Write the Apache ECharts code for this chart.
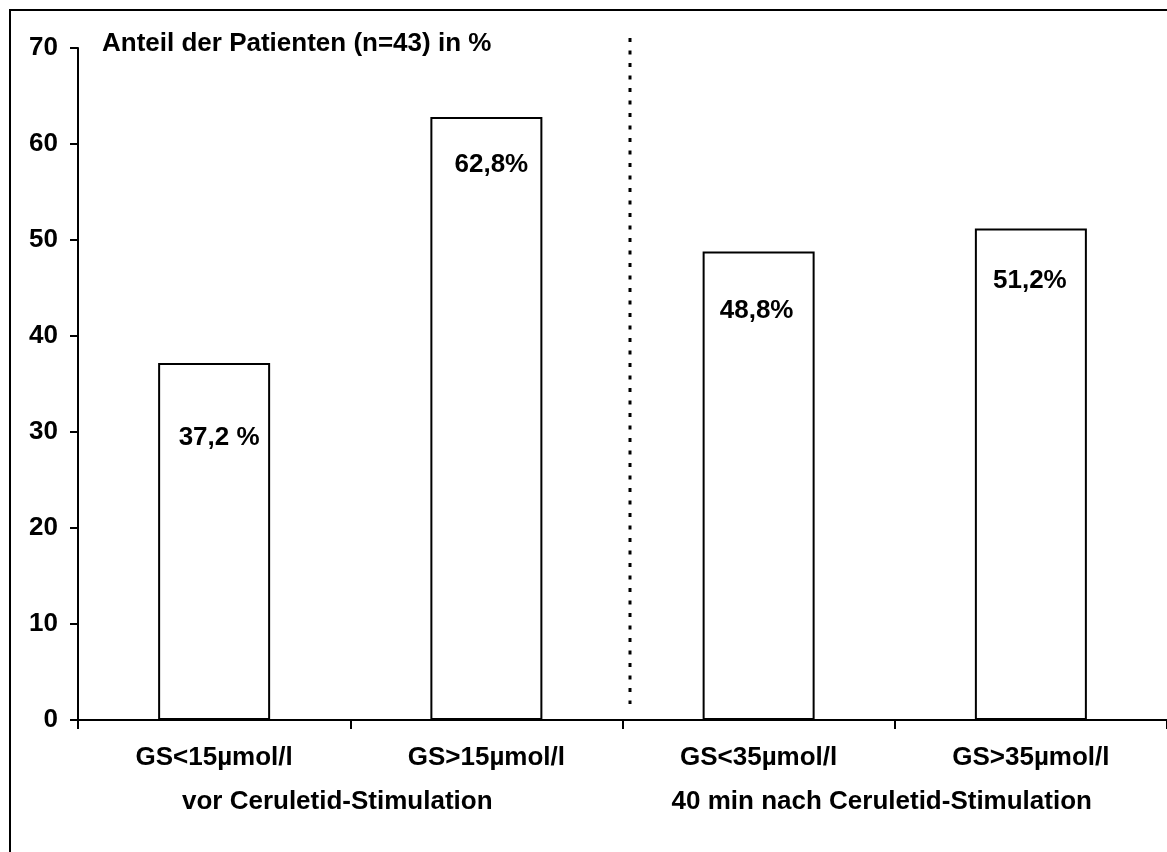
<!DOCTYPE html>
<html>
<head>
<meta charset="utf-8">
<script src="https://cdn.jsdelivr.net/npm/echarts@6/dist/echarts.min.js"></script>
<style>
  html, body { margin: 0; padding: 0; background: #fff; }
  #chart { width: 1167px; height: 852px; }
</style>
</head>
<body>
<div id="chart"></div>
<script>
// Proportion of patients (n=43) by bile acid level, before and 40 min after ceruletide
const categories = ['GS<15µmol/l', 'GS>15µmol/l', 'GS<35µmol/l', 'GS>35µmol/l'];
const values = [37.2, 62.8, 48.8, 51.2];
const valueLabels = ['37,2 %', '62,8%', '48,8%', '51,2%'];
const groups = ['vor Ceruletid-Stimulation', '40 min nach Ceruletid-Stimulation'];
const yTicks = [0, 10, 20, 30, 40, 50, 60, 70];
const yTitle = 'Anteil der Patienten (n=43) in %';

const FONT = '"Liberation Sans", Arial, sans-serif';
const FS = 26;
// label placement inside each bar: distance below the bar top and horizontal nudge
const labelDistances = [62, 35, 46, 39];
const labelNudge = [5, 5, -2, -1];

const chart = echarts.init(document.getElementById('chart'));

chart.setOption({
  animation: false,
  backgroundColor: '#fff',
  textStyle: { fontFamily: FONT },
  grid: { left: 78, top: 48, bottom: 132, right: -5, containLabel: false },
  xAxis: [
    {
      type: 'category',
      data: categories,
      position: 'bottom',
      axisLine: { lineStyle: { color: '#000', width: 2 } },
      axisTick: { show: true, length: 9, inside: false, lineStyle: { color: '#000', width: 2 } },
      axisLabel: { interval: 0, color: '#000', fontFamily: FONT, fontWeight: 'bold', fontSize: FS, margin: 25 }
    },
    {
      type: 'category',
      data: groups,
      position: 'bottom',
      offset: 44,
      axisLine: { show: false },
      axisTick: { show: false },
      axisLabel: {
        interval: 0,
        color: '#000', fontFamily: FONT, fontWeight: 'bold', fontSize: FS, margin: 25,
        padding: [0, 26, 0, 0]
      }
    }
  ],
  yAxis: {
    type: 'value',
    min: yTicks[0],
    max: yTicks[yTicks.length - 1],
    interval: yTicks[1] - yTicks[0],
    splitLine: { show: false },
    axisLine: { show: true, lineStyle: { color: '#000', width: 2 } },
    axisTick: { show: true, length: 8, lineStyle: { color: '#000', width: 2 } },
    axisLabel: { color: '#000', fontFamily: FONT, fontWeight: 'bold', fontSize: FS, margin: 20 }
  },
  series: [{
    type: 'bar',
    xAxisIndex: 0,
    barWidth: 112,
    data: values.map((v, i) => ({
      value: v,
      label: {
        show: true,
        position: 'insideTop',
        distance: labelDistances[i],
        offset: [labelNudge[i], 0],
        formatter: valueLabels[i],
        color: '#000',
        fontFamily: FONT,
        fontWeight: 'bold',
        fontSize: FS
      }
    })),
    itemStyle: { color: '#fff', borderColor: '#000', borderWidth: 2 }
  }],
  graphic: [
    // outer frame (only left and top edges fall inside the page)
    {
      type: 'rect',
      shape: { x: 10, y: 10, width: 1200, height: 900 },
      style: { fill: 'none', stroke: '#000', lineWidth: 2 },
      silent: true
    },
    // axis title
    {
      type: 'text',
      left: 102,
      top: 31,
      style: { text: yTitle, fill: '#000', font: 'bold ' + FS + 'px ' + FONT }
    },
    // dotted separator between the two measurement times
    {
      type: 'line',
      shape: { x1: 630, y1: 38, x2: 630, y2: 704 },
      style: { stroke: '#000', lineWidth: 3, lineDash: [4, 8.5] },
      silent: true
    }
  ]
});
</script>
</body>
</html>
